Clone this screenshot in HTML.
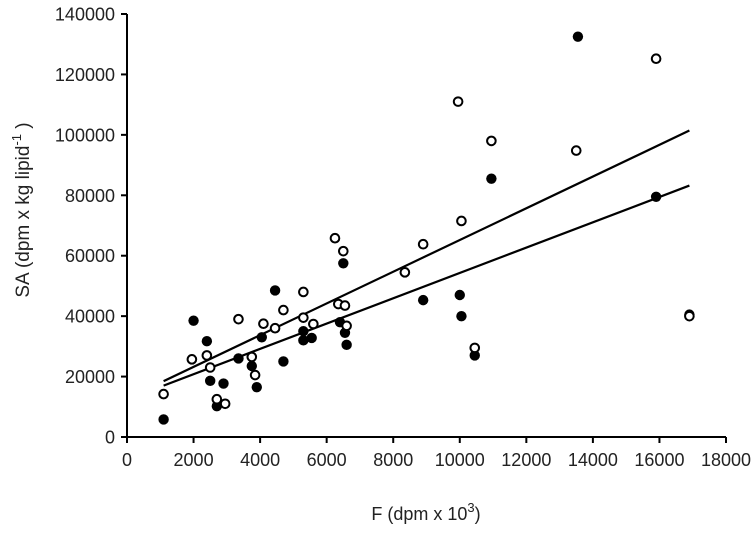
<!DOCTYPE html>
<html><head><meta charset="utf-8"><style>
body{margin:0;background:#fff;}
svg text{font-family:"Liberation Sans",Arial,sans-serif;fill:#222;}
</style></head><body>
<svg id="chart" width="752" height="529" xmlns="http://www.w3.org/2000/svg"></svg>
<script>
const xTicks=[0,2000,4000,6000,8000,10000,12000,14000,16000,18000];
const yTicks=[0,20000,40000,60000,80000,100000,120000,140000];
const filledX=[1100,2000,2400,2500,2700,2900,3350,3750,3900,4050,4450,4700,5300,5300,5550,6400,6500,6550,6600,8900,10000,10050,10450,10950,13550,15900,16900];
const filledY=[5800,38500,31700,18600,10200,17700,26000,23500,16500,33000,48500,25000,32000,35000,32800,38000,57500,34500,30500,45300,47000,40000,27000,85500,132500,79500,40500];
const openX=[1100,1950,2400,2500,2700,2950,3350,3750,3850,4100,4450,4700,5300,5300,5600,6250,6350,6500,6550,6600,8350,8900,9950,10050,10450,10950,13500,15900,16900];
const openY=[14200,25700,27000,23000,12500,11000,39000,26500,20500,37500,36000,42000,39500,48000,37400,65800,44000,61500,43500,36800,54500,63800,111000,71500,29500,98000,94800,125200,40000];
const fitRange=[1100,16900];
const openFit=[12700,5.25];
const filledFit=[12400,4.19];

const NS="http://www.w3.org/2000/svg";
const svg=document.getElementById('chart');
const X0=127,X1=726,Y0=437,Y1=14;
const sx=v=>X0+v/18000*(X1-X0);
const sy=v=>Y0-v/140000*(Y0-Y1);
function mk(t,a){const e=document.createElementNS(NS,t);for(const k in a)e.setAttribute(k,a[k]);svg.appendChild(e);return e;}

let e=mk('line',{x1:X0,y1:Y1,x2:X0,y2:Y0+1,stroke:'#000','stroke-width':2});


e=mk('line',{x1:X0-1,y1:Y0,x2:X1,y2:Y0,stroke:'#000','stroke-width':2});



yTicks.forEach(v=>{
  let t=mk('line',{x1:X0-6,y1:sy(v),x2:X0,y2:sy(v),stroke:'#000','stroke-width':2});
  
  
  let l=mk('text',{x:X0-12,y:sy(v)+6.5,'text-anchor':'end','font-size':18});
  l.textContent=v;
  
  
});
xTicks.forEach(v=>{
  let t=mk('line',{x1:sx(v),y1:Y0,x2:sx(v),y2:Y0+6,stroke:'#000','stroke-width':2});
  
  
  let l=mk('text',{x:sx(v),y:Y0+29,'text-anchor':'middle','font-size':18});
  l.textContent=v;
  
  
});

function fit(p,name){
  let l=mk('line',{x1:sx(fitRange[0]),y1:sy(p[0]+p[1]*fitRange[0]),x2:sx(fitRange[1]),y2:sy(p[0]+p[1]*fitRange[1]),stroke:'#000','stroke-width':2.2});
  
  
}
fit(openFit,'open-trendline');
fit(filledFit,'filled-trendline');

filledX.forEach((v,i)=>{
  let c=mk('circle',{cx:sx(v),cy:sy(filledY[i]),r:5.2,fill:'#000'});
  
  
});
openX.forEach((v,i)=>{
  let c=mk('circle',{cx:sx(v),cy:sy(openY[i]),r:4.3,fill:'#fff',stroke:'#000','stroke-width':2});
  
  
});
</script>
<svg style="position:absolute;left:0;top:0" width="752" height="529" xmlns="http://www.w3.org/2000/svg">
<text x="426" y="520" text-anchor="middle" font-size="18">F (dpm x 10<tspan dy="-8" font-size="13">3</tspan><tspan dy="8">)</tspan></text>
<text transform="translate(29,210) rotate(-90)" text-anchor="middle" font-size="19">SA (dpm x kg lipid<tspan dy="-8" font-size="13">-1</tspan><tspan dy="8"> )</tspan></text>
</svg>
</body></html>
